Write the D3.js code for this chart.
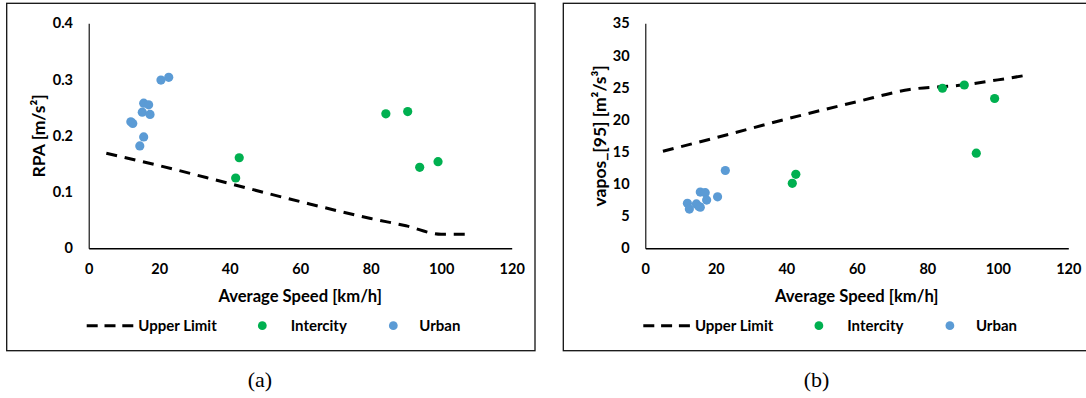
<!DOCTYPE html>
<html>
<head>
<meta charset="utf-8">
<script src="https://cdn.jsdelivr.net/npm/d3@7"></script>
<style>
  html, body { margin: 0; padding: 0; background: #fff; }
  svg { display: block; }
  .lbl { font-family: Lato, "Open Sans", sans-serif; font-weight: 700; fill: #000; }
  .cap { font-family: "Liberation Serif", serif; font-weight: 400; fill: #000; }
</style>
</head>
<body>
<svg id="chart" width="1086" height="398"></svg>
<script>
// Shared x values (average speed, km/h)
const speedTicks = [0, 20, 40, 60, 80, 100, 120];
const urbanSpeed = [11.95, 12.5, 14.5, 15.2, 15.6, 15.6, 17.0, 17.4, 20.5, 22.7];
const intercitySpeed = [41.7, 42.7, 84.3, 90.5, 93.9, 99.1];

// Panel (a): RPA
const rpaTicks = [0, 0.1, 0.2, 0.3, 0.4];
const limitSpeedA = [5, 20, 40, 60, 80, 90, 100, 108];
const limitRpa = [0.169, 0.147, 0.115, 0.083, 0.053, 0.040, 0.025, 0.025];
const urbanRpa = [0.225, 0.222, 0.182, 0.242, 0.258, 0.198, 0.255, 0.238, 0.299, 0.304];
const intercityRpa = [0.125, 0.161, 0.239, 0.243, 0.144, 0.154];

// Panel (b): v*a_pos 95th percentile
const vaposTicks = [0, 5, 10, 15, 20, 25, 30, 35];
const limitSpeedB = [5, 20, 40, 60, 75, 90, 100, 109];
const limitVapos = [15.1, 17.2, 20.1, 22.8, 24.7, 25.4, 26.2, 27.0];
const urbanVapos = [7.0, 6.1, 6.9, 6.5, 8.75, 6.4, 8.65, 7.5, 8.0, 12.1];
const intercityVapos = [10.1, 11.5, 24.9, 25.4, 14.8, 23.3];

const legendNames = ["Upper Limit", "Intercity", "Urban"];
const colors = { intercity: "#00B050", urban: "#5B9BD5", limit: "#000" };

const svg = d3.select("#chart");
svg.append("rect").attr("width", 1086).attr("height", 398).attr("fill", "#fff");

const panels = [
  { dx: 0, yMax: 0.4, yTicks: rpaTicks, yFmt: d => d === 0 ? "0" : d3.format(".1f")(d),
    title: "RPA [m/s\u00B2]", titleX: 39,
    limX: limitSpeedA, limY: limitRpa, urbY: urbanRpa, intY: intercityRpa,
    caption: "(a)", capX: 260 },
  { dx: 556.6, yMax: 35, yTicks: vaposTicks, yFmt: d3.format("d"),
    title: "vapos_[95] [m\u00B2/s\u00B3]", titleX: 43,
    limX: limitSpeedB, limY: limitVapos, urbY: urbanVapos, intY: intercityVapos,
    caption: "(b)", capX: 260 }
];

const plotL = 88.7, plotR = 511.7, plotT = 23.3, plotB = 248.3;
const dashes = "11,7.8";

panels.forEach(p => {
  const g = svg.append("g").attr("transform", `translate(${p.dx},0)`);

  // frame around each chart
  g.append("rect")
    .attr("x", 6.7).attr("y", 3.3).attr("width", 528.3).attr("height", 347.4)
    .attr("fill", "none").attr("stroke", "#111").attr("stroke-width", 1.3);

  const x = d3.scaleLinear().domain([0, 120]).range([plotL, plotR]);
  const y = d3.scaleLinear().domain([0, p.yMax]).range([plotB, plotT]);

  // x axis
  const xa = g.append("g").attr("transform", `translate(0,${plotB})`)
    .call(d3.axisBottom(x).tickValues(speedTicks).tickSize(0).tickPadding(15.5));
  xa.select(".domain").attr("stroke", "#000").attr("stroke-width", 1.5);
  xa.selectAll("text").attr("class", "lbl").style("font-size", "14.5px");

  // y axis
  const ya = g.append("g").attr("transform", `translate(${plotL},0)`)
    .call(d3.axisLeft(y).tickValues(p.yTicks).tickFormat(p.yFmt).tickSize(0).tickPadding(15.7));
  ya.select(".domain").attr("stroke", "#000").attr("stroke-width", 1.1);
  ya.selectAll("text").attr("class", "lbl").style("font-size", "14.5px");

  // upper limit
  const line = d3.line().x(d => x(d[0])).y(d => y(d[1])).curve(d3.curveMonotoneX);
  g.append("path")
    .datum(d3.zip(p.limX, p.limY))
    .attr("d", line)
    .attr("fill", "none").attr("stroke", colors.limit)
    .attr("stroke-width", 3).attr("stroke-dasharray", dashes);

  // points
  g.append("g").selectAll("circle")
    .data(d3.zip(intercitySpeed, p.intY))
    .join("circle")
    .attr("cx", d => x(d[0])).attr("cy", d => y(d[1])).attr("r", 4.6)
    .attr("fill", colors.intercity);
  g.append("g").selectAll("circle")
    .data(d3.zip(urbanSpeed, p.urbY))
    .join("circle")
    .attr("cx", d => x(d[0])).attr("cy", d => y(d[1])).attr("r", 4.6)
    .attr("fill", colors.urban);

  // axis titles
  g.append("text").attr("class", "lbl")
    .attr("x", (plotL + plotR) / 2).attr("y", 296).attr("dy", "0.35em")
    .attr("text-anchor", "middle").style("font-size", "16.6px")
    .text("Average Speed [km/h]");
  g.append("text").attr("class", "lbl")
    .attr("transform", `translate(${p.titleX},${(plotT + plotB) / 2}) rotate(-90)`)
    .attr("dy", "0.35em").attr("text-anchor", "middle").style("font-size", "17.5px")
    .text(p.title);

  // legend
  const ly = 325.7;
  g.append("line").attr("x1", 86.7).attr("x2", 133.3).attr("y1", ly).attr("y2", ly)
    .attr("stroke", colors.limit).attr("stroke-width", 3).attr("stroke-dasharray", "11,6.8");
  g.append("text").attr("class", "lbl").attr("x", 138.3).attr("y", ly).attr("dy", "0.35em")
    .style("font-size", "15px").text(legendNames[0]);
  g.append("circle").attr("cx", 262.3).attr("cy", ly).attr("r", 4.4).attr("fill", colors.intercity);
  g.append("text").attr("class", "lbl").attr("x", 290.7).attr("y", ly).attr("dy", "0.35em")
    .style("font-size", "15px").text(legendNames[1]);
  g.append("circle").attr("cx", 393.3).attr("cy", ly).attr("r", 4.4).attr("fill", colors.urban);
  g.append("text").attr("class", "lbl").attr("x", 419.3).attr("y", ly).attr("dy", "0.35em")
    .style("font-size", "15px").text(legendNames[2]);

  // caption
  g.append("text").attr("class", "cap")
    .attr("x", p.capX).attr("y", 379).attr("dy", "0.35em")
    .attr("text-anchor", "middle").style("font-size", "22px")
    .text(p.caption);
});
</script>
</body>
</html>
